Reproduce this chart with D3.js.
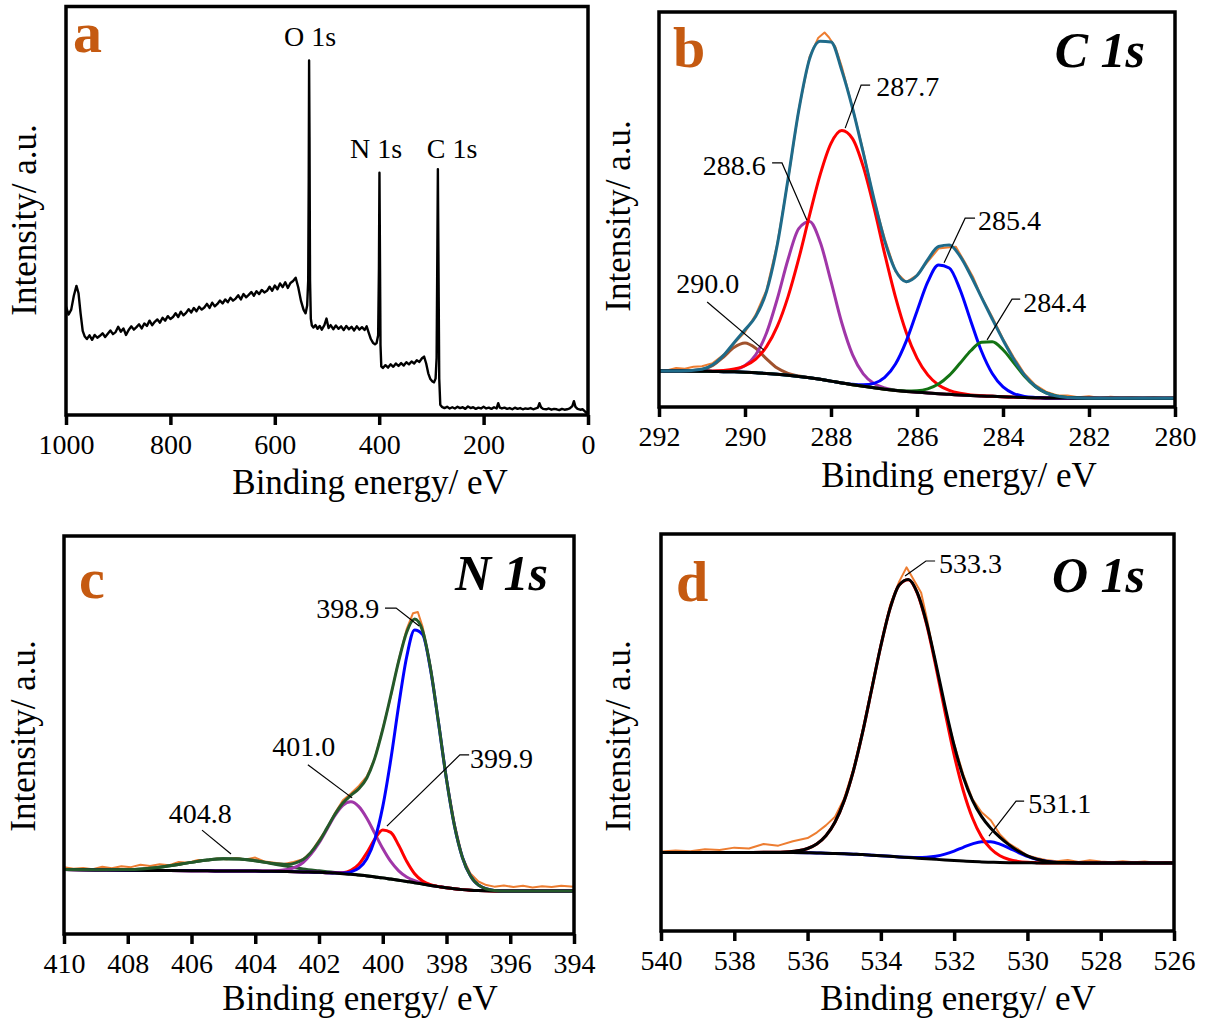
<!DOCTYPE html>
<html><head><meta charset="utf-8">
<script src="https://cdn.jsdelivr.net/npm/d3@7"></script>
<style>
html,body{margin:0;padding:0;background:#fff;}
svg{display:block;}
svg text{font-family:"Liberation Serif","Times New Roman",Times,serif;}
</style></head><body>
<svg id="chart" width="1213" height="1026"></svg>
<script>
// ---------------- DATA ----------------
// (a) survey spectrum: [binding energy eV, intensity a.u.]
const surveyPoints = [
[1000,26.5],[995,24.6],[990,25.8],[985,29.2],[980,31.6],[976,29.8],[972,24.8],[968,20.6],[964,19.2],[960,18.6],
[955,19.5],[950,18.4],[945,19.6],[940,18.9],[935,19.4],[930,20.0],[925,19.1],[920,19.9],[915,20.7],[910,19.8],
[905,20.3],[900,21.6],[895,20.4],[890,21.2],[885,19.6],[880,20.8],[875,21.7],[870,20.9],[865,21.5],[860,22.2],
[855,21.2],[850,22.4],[845,21.8],[840,23.1],[835,22.0],[830,22.8],[825,23.4],[820,22.6],[815,23.8],[810,23.1],
[805,24.2],[800,23.5],[795,24.0],[790,24.9],[785,24.0],[780,25.3],[775,24.4],[770,25.0],[765,25.9],[760,25.1],
[755,26.2],[750,25.4],[745,26.5],[740,25.8],[735,26.3],[730,27.2],[725,26.2],[720,27.5],[715,26.6],[710,27.2],
[705,28.0],[700,27.3],[695,28.3],[690,27.6],[685,28.7],[680,28.0],[675,28.5],[670,29.3],[665,28.3],[660,29.6],
[655,28.8],[650,29.4],[645,30.1],[640,29.2],[635,30.3],[630,29.6],[625,30.6],[620,30.0],[615,30.4],[610,31.4],
[605,30.4],[600,31.7],[595,30.8],[590,32.2],[585,31.3],[580,32.5],[575,31.1],[570,32.3],[565,32.8],[560,33.6],
[555,31.2],[550,28.0],[545,25.8],[541,24.9],[538,26.8],[536,33],[535,58],[534.3,86.8],[533.5,68],[532.5,33],
[531,23.6],[529,21.9],[526,21.4],[522,22.0],[518,21.1],[514,21.8],[510,20.9],[505,22.0],[501,23.6],[497,21.3],
[493,22.0],[488,21.0],[483,21.9],[478,21.1],[473,21.7],[468,20.8],[463,21.8],[458,21.0],[453,21.6],[448,20.7],
[443,21.7],[438,20.9],[433,21.5],[428,20.8],[424,21.7],[420,20.1],[416,18.6],[412,17.7],[408,17.3],[405,17.6],
[402,19.5],[400.5,36],[399.5,59.3],[398.5,38],[397.5,17],[396,11.9],[393,11.5],[388,12.2],[383,11.6],[378,12.4],
[373,11.8],[368,12.6],[363,12.0],[358,12.7],[353,12.1],[348,12.9],[343,12.4],[338,13.1],[333,12.6],[328,13.4],
[323,13.0],[318,13.9],[314,14.3],[310,12.6],[306,10.2],[302,8.8],[298,8.2],[295,8.0],[292,8.9],[290,14],
[288.5,42],[287.6,60.2],[286.5,38],[285,9],[283,2.5],[280,2.0],[275,1.7],[270,2.0],[265,1.6],[260,1.9],
[255,1.6],[250,2.0],[245,1.7],[240,1.9],[235,1.5],[230,2.1],[225,1.7],[220,1.9],[215,1.5],[210,1.8],
[205,1.6],[200,2.0],[195,1.6],[190,1.8],[185,1.5],[180,1.9],[175,1.6],[172,2.9],[169,1.8],[165,1.6],
[160,1.8],[155,1.5],[150,1.7],[145,1.4],[140,1.8],[135,1.5],[130,1.7],[125,1.4],[120,1.6],[115,1.5],
[110,1.7],[105,1.4],[100,1.6],[96,1.8],[93,2.9],[90,1.9],[86,1.5],[80,1.4],[75,1.6],[70,1.3],
[65,1.5],[60,1.4],[55,1.2],[50,1.5],[45,1.3],[40,1.4],[35,1.6],[30,2.2],[27,3.4],[24,2.0],
[20,1.5],[15,1.3],[10,1.4],[6,0.9],[3,0.5],[0,0.9]
];
const surveyTicks = [1000, 800, 600, 400, 200, 0];
const surveyLabels = [
  {text: "O 1s", at: [532.6, 90.3]},
  {text: "N 1s", at: [406, 62.9]},
  {text: "C 1s", at: [260.5, 62.9]}
];

// (b) C 1s
const c1sRawPoints = [
[292,9.2],[291.8,9.3],[291.6,9.9],[291.4,9.7],[291.2,10.2],[291,10.3],[290.75,11.1],[290.5,13.2],[290.25,16.1],[290,19.0],
[289.75,23.4],[289.5,29.6],[289.25,41.3],[289,57.4],[288.75,75.3],[288.5,88.6],[288.3,93.4],[288.15,94.8],[288.05,93.6],[287.9,91.2],
[287.75,86.2],[287.5,75.8],[287.25,64.8],[287,52.4],[286.75,42.6],[286.5,34.3],[286.25,31.6],[286,33.4],[285.75,36.8],[285.5,40.1],
[285.3,40.4],[285.1,40.6],[284.9,36.9],[284.7,33.0],[284.5,27.9],[284.25,22.8],[284,17.3],[283.75,12.6],[283.5,8.4],[283.25,5.6],
[283,3.9],[282.75,3.0],[282.5,2.9],[282.25,2.5],[282,2.7],[281.75,2.3],[281.5,2.6],[281.25,2.4],[281,2.5],[280.75,2.3],
[280.5,2.5],[280.25,2.3],[280,2.4]
];
const c1sEnergy = [292,291.5,291,290.75,290.5,290.25,290,289.75,289.5,289.25,289,288.75,288.5,288.25,288,287.75,287.5,287.25,287,286.75,286.5,286.25,286,285.75,285.5,285.25,285,284.75,284.5,284.25,284,283.75,283.5,283.25,283,282.5,282,281,280];
const c1sEnvelope = [9.1,9.11,9.54,10.68,13.06,16.34,19.54,22.94,29.22,40.99,57.65,75.05,88.06,92.6,92.4,85.22,75.66,64.36,52.66,41.99,34.58,31.72,33.28,37.29,40.63,41.0,38.18,33.29,27.75,22.27,16.98,12.11,8.08,5.26,3.57,2.4,2.2,2.2,2.2];
const c1sBackground = [9.1,9.1,9.05,9.0,8.95,8.9,8.8,8.65,8.5,8.3,8.05,7.75,7.4,7.0,6.55,6.1,5.65,5.25,4.85,4.5,4.2,3.95,3.75,3.55,3.35,3.2,3.05,2.9,2.8,2.7,2.6,2.5,2.4,2.35,2.3,2.25,2.2,2.2,2.2];
const c1sPeak2900 = [9.1,9.1,9.51,10.55,12.65,15.12,16.2,14.87,12.2,9.85,8.51,7.85,7.41,7.0,6.55,6.1,5.65,5.25,4.85,4.5,4.2,3.95,3.75,3.55,3.35,3.2,3.05,2.9,2.8,2.7,2.6,2.5,2.4,2.35,2.3,2.25,2.2,2.2,2.2];
const c1sPeak2886 = [9.1,9.1,9.05,9.03,9.08,9.42,10.5,13.24,18.74,27.34,37.35,45.15,46.95,41.7,31.8,21.32,13.26,8.4,5.93,4.81,4.27,3.96,3.75,3.55,3.35,3.2,3.05,2.9,2.8,2.7,2.6,2.5,2.4,2.35,2.3,2.25,2.2,2.2,2.2];
const c1sPeak2877 = [9.1,9.1,9.08,9.1,9.23,9.6,10.44,12.13,15.28,20.4,27.89,37.55,48.5,58.9,66.75,70.0,67.95,60.85,50.45,38.7,27.8,18.85,12.39,8.14,5.58,4.2,3.46,3.05,2.85,2.7,2.6,2.5,2.4,2.35,2.3,2.25,2.2,2.2,2.2];
const c1sPeak2854 = [9.1,9.1,9.05,9.0,8.95,8.9,8.8,8.65,8.5,8.3,8.05,7.75,7.4,7.0,6.55,6.1,5.75,5.61,5.98,7.48,10.88,16.69,24.25,31.65,35.95,35.2,29.75,21.8,14.1,8.47,5.08,3.41,2.68,2.42,2.3,2.25,2.2,2.2,2.2];
const c1sPeak2844 = [9.1,9.1,9.05,9.0,8.95,8.9,8.8,8.65,8.5,8.3,8.05,7.75,7.4,7.0,6.55,6.1,5.65,5.25,4.85,4.5,4.23,4.07,4.14,4.6,5.8,8.0,11.07,14.24,16.4,16.5,14.5,11.2,7.8,5.19,3.57,2.4,2.2,2.2,2.2];
const c1sTicks = [292, 290, 288, 286, 284, 282, 280];
const c1sLabels = [
  {text: "290.0", at: [291.6, 28.9], leader: [[290.88, 26.6], [289.56, 14.4]]},
  {text: "288.6", at: [290.98, 58.7], leader: [[289.37, 61.8], [289.14, 61.8], [288.56, 47.3]]},
  {text: "287.7", at: [286.95, 78.7], leader: [[287.09, 81.5], [287.30, 81.5], [287.67, 70.6]]},
  {text: "285.4", at: [284.58, 44.8], leader: [[284.65, 47.8], [284.88, 47.8], [285.37, 36.5]]},
  {text: "284.4", at: [283.53, 24.1], leader: [[283.6, 27.3], [283.79, 27.3], [284.37, 17.0]]}
];

// (c) N 1s
const n1sRawPoints = [
[410,16.8],[409.7,16.4],[409.4,16.6],[409.1,16.3],[408.8,16.9],[408.5,16.5],[408.2,17.0],[407.9,16.8],[407.6,17.4],[407.3,17.1],
[407,17.5],[406.7,17.3],[406.4,18.1],[406.1,17.9],[405.8,18.6],[405.5,18.5],[405.2,19.0],[404.9,18.8],[404.6,19.1],[404.3,18.7],
[404,19.2],[403.7,18.2],[403.4,17.9],[403.1,17.6],[402.8,18.1],[402.5,18.8],[402.25,20.6],[402,23.6],[401.75,26.5],[401.5,30.4],
[401.25,33.6],[401,35.3],[400.75,37.2],[400.5,39.6],[400.25,44.1],[400,51.6],[399.75,59.6],[399.5,68.9],[399.25,76.6],[399.05,80.6],
[398.9,80.9],[398.75,77.2],[398.5,67.3],[398.25,53.4],[398,39.2],[397.75,27.9],[397.5,19.3],[397.25,15.2],[397,13.2],[396.75,12.3],
[396.5,11.9],[396.2,12.2],[395.9,11.8],[395.6,12.1],[395.3,11.7],[395,12.0],[394.7,11.8],[394.4,12.1],[394,11.9]
];
const n1sEnergy = [410,409,408,407,406,405.5,405,404.5,404,403.5,403,402.5,402,401.75,401.5,401.25,401,400.75,400.5,400.25,400,399.75,399.5,399.25,399,398.75,398.5,398.25,398,397.75,397.5,397.25,397,396.5,396,395,394];
const n1sEnvelope = [16.2,16.13,16.19,16.79,18.0,18.58,18.92,18.86,18.42,17.77,17.48,18.71,23.24,26.6,30.07,32.91,34.84,36.47,39.19,44.19,51.41,59.86,68.56,75.82,79.14,76.21,66.66,53.06,38.85,27.21,19.24,14.61,12.31,10.95,10.8,10.8,10.8];
const n1sBackground = [16.2,16.1,16.0,15.95,15.9,15.87,15.85,15.83,15.8,15.75,15.7,15.6,15.5,15.4,15.3,15.15,15.0,14.8,14.6,14.35,14.1,13.8,13.5,13.2,12.9,12.55,12.2,11.9,11.6,11.35,11.15,11.0,10.9,10.8,10.8,10.8,10.8];
const n1sPeak4048 = [16.2,16.13,16.19,16.79,18.0,18.58,18.92,18.86,18.41,17.71,16.99,16.34,15.87,15.65,15.46,15.25,15.06,14.84,14.62,14.36,14.1,13.8,13.5,13.2,12.9,12.55,12.2,11.9,11.6,11.35,11.15,11.0,10.9,10.8,10.8,10.8,10.8];
const n1sPeak4010 = [16.2,16.1,16.0,15.95,15.9,15.87,15.85,15.83,15.81,15.81,16.19,17.97,22.87,26.34,29.8,32.35,33.2,32.0,29.1,25.29,21.47,18.22,15.87,14.34,13.39,12.74,12.26,11.92,11.6,11.35,11.15,11.0,10.9,10.8,10.8,10.8,10.8];
const n1sPeak3999 = [16.2,16.1,16.0,15.95,15.9,15.87,15.85,15.83,15.8,15.75,15.7,15.6,15.5,15.4,15.36,15.42,15.97,17.5,20.38,23.87,26.14,25.54,22.29,18.28,15.15,13.32,12.4,11.94,11.6,11.35,11.15,11.0,10.9,10.8,10.8,10.8,10.8];
const n1sPeak3989 = [16.2,16.1,16.0,15.95,15.9,15.87,15.85,15.83,15.8,15.75,15.7,15.6,15.5,15.4,15.35,15.34,15.61,16.53,18.89,23.72,32.0,43.7,57.4,69.6,76.4,75.25,66.4,53.0,38.85,27.21,19.24,14.61,12.31,10.95,10.8,10.8,10.8];
const n1sTicks = [410, 408, 406, 404, 402, 400, 398, 396, 394];
const n1sLabels = [
  {text: "398.9", at: [402.09, 79.4], leader: [[399.93, 81.9], [399.58, 81.9], [398.86, 77.4]]},
  {text: "401.0", at: [403.47, 44.7], leader: [[402.35, 42.5], [400.96, 34.2]]},
  {text: "399.9", at: [397.26, 41.7], leader: [[397.29, 45.0], [397.58, 45.0], [399.87, 27.1]]},
  {text: "404.8", at: [406.71, 27.9], leader: [[405.67, 26.1], [404.76, 20.1]]}
];

// (d) O 1s
const o1sRawPoints = [
[540,20.0],[539.6,20.3],[539.2,20.1],[538.8,20.6],[538.4,20.4],[538,21.0],[537.6,20.8],[537.2,21.9],[536.8,21.5],[536.4,22.6],
[536,23.4],[535.75,24.8],[535.5,26.6],[535.25,28.8],[535,33.4],[534.75,40.8],[534.5,50.3],[534.25,61.4],[534,72.2],[533.75,82.0],
[533.5,88.0],[533.3,91.6],[533.1,88.4],[532.9,85.2],[532.75,78.9],[532.5,67.2],[532.25,56.0],[532,47.1],[531.75,39.4],[531.5,33.2],
[531.25,29.9],[531,27.9],[530.75,24.3],[530.5,22.0],[530.25,20.6],[530,19.0],[529.75,18.4],[529.5,17.9],[529.2,17.6],[528.9,17.9],
[528.6,17.4],[528.3,17.8],[528,17.5],[527.7,17.3],[527.4,17.6],[527.1,17.3],[526.8,17.5],[526.5,17.2],[526.2,17.4],[526,17.3]
];
const o1sEnergy = [540,539,538,537.5,537,536.5,536,535.75,535.5,535.25,535,534.75,534.5,534.25,534,533.75,533.5,533.25,533,532.75,532.5,532.25,532,531.75,531.5,531.25,531,530.75,530.5,530.25,530,529.75,529.5,529,528.5,528,527,526];
const o1sEnvelope = [19.8,19.8,19.8,19.8,19.81,19.95,20.78,21.9,23.98,27.46,32.84,40.35,49.95,60.9,71.85,81.21,87.17,88.56,85.11,77.53,67.44,56.66,46.74,38.79,32.92,28.8,25.86,23.57,21.69,20.13,18.94,18.11,17.6,17.23,17.15,17.15,17.15,17.15];
const o1sBackground = [19.8,19.8,19.8,19.8,19.78,19.75,19.7,19.65,19.6,19.52,19.45,19.35,19.25,19.1,18.95,18.8,18.65,18.5,18.35,18.2,18.05,17.9,17.75,17.62,17.5,17.4,17.32,17.26,17.22,17.19,17.17,17.16,17.15,17.15,17.15,17.15,17.15,17.15];
const o1sPeak5333 = [19.8,19.8,19.8,19.8,19.81,19.95,20.78,21.9,23.98,27.46,32.84,40.35,49.95,60.9,71.85,81.2,87.15,88.5,84.95,77.15,66.65,55.2,44.35,35.32,28.46,23.71,20.71,18.95,18.01,17.53,17.31,17.21,17.15,17.15,17.15,17.15,17.15,17.15];
const o1sPeak5311 = [19.8,19.8,19.8,19.8,19.78,19.75,19.7,19.65,19.6,19.52,19.45,19.35,19.25,19.1,18.95,18.81,18.67,18.56,18.51,18.58,18.84,19.36,20.14,21.09,21.96,22.49,22.47,21.88,20.9,19.79,18.8,18.06,17.6,17.23,17.15,17.15,17.15,17.15];
const o1sTicks = [540, 538, 536, 534, 532, 530, 528, 526];
const o1sLabels = [
  {text: "533.3", at: [532.41, 90.2], leader: [[532.52, 93.2], [532.77, 93.2], [533.34, 89.4]]},
  {text: "531.1", at: [529.98, 29.7], leader: [[530.09, 32.7], [530.31, 32.7], [531.05, 23.9]]}
];

// ---------------- DRAWING ----------------
const FONT = '"Liberation Serif","Times New Roman",Times,serif';
const svg = d3.select('#chart');
const zip = (xs, ys) => xs.map((v, i) => [v, ys[i]]);

const COL = {raw: '#ED7D31', black: '#000000', red: '#FF0000', blue: '#0000FF',
  purple: '#A036A8', brown: '#A0522D', green: '#137313', teal: '#1F6B8A', dkgreen: '#24592A',
  letter: '#C55A11'};

const panels = [
  {id: 'a', box: {x0: 66, x1: 588, y0: 6.5, y1: 415}, domain: [1000, 0], ticks: surveyTicks,
   letter: {t: 'a', x: 73, y: 52}, title: null,
   xTitle: {x: 370, y: 494}, yTitle: {x: 36, y: 220},
   series: [{pts: surveyPoints, color: COL.black, w: 2.4, curve: d3.curveLinear}],
   labels: surveyLabels, labelAnchor: 'middle'},
  {id: 'b', box: {x0: 659, x1: 1175, y0: 12, y1: 407}, domain: [292, 280], ticks: c1sTicks,
   letter: {t: 'b', x: 673, y: 67}, title: {t: 'C 1s', x: 1145, y: 67},
   xTitle: {x: 959, y: 487}, yTitle: {x: 630, y: 216},
   series: [
     {pts: c1sRawPoints, color: COL.raw, w: 2, curve: d3.curveLinear},
     {pts: zip(c1sEnergy, c1sPeak2900), color: COL.brown, w: 3},
     {pts: zip(c1sEnergy, c1sPeak2886), color: COL.purple, w: 3},
     {pts: zip(c1sEnergy, c1sPeak2877), color: COL.red, w: 3},
     {pts: zip(c1sEnergy, c1sPeak2854), color: COL.blue, w: 3},
     {pts: zip(c1sEnergy, c1sPeak2844), color: COL.green, w: 3},
     {pts: zip(c1sEnergy, c1sBackground), color: COL.black, w: 3},
     {pts: zip(c1sEnergy, c1sEnvelope), color: COL.teal, w: 3}
   ], labels: c1sLabels, labelAnchor: 'start'},
  {id: 'c', box: {x0: 64, x1: 574, y0: 536, y1: 934}, domain: [410, 394], ticks: n1sTicks,
   letter: {t: 'c', x: 79, y: 598}, title: {t: 'N 1s', x: 548, y: 590},
   xTitle: {x: 360, y: 1010}, yTitle: {x: 35, y: 736},
   series: [
     {pts: n1sRawPoints, color: COL.raw, w: 2, curve: d3.curveLinear},
     {pts: zip(n1sEnergy, n1sPeak4048), color: COL.dkgreen, w: 3},
     {pts: zip(n1sEnergy, n1sPeak4010), color: COL.purple, w: 3},
     {pts: zip(n1sEnergy, n1sPeak3999), color: COL.red, w: 3},
     {pts: zip(n1sEnergy, n1sPeak3989), color: COL.blue, w: 3},
     {pts: zip(n1sEnergy, n1sBackground), color: COL.black, w: 3},
     {pts: zip(n1sEnergy, n1sEnvelope), color: COL.dkgreen, w: 3}
   ], labels: n1sLabels, labelAnchor: 'start'},
  {id: 'd', box: {x0: 661, x1: 1174, y0: 534, y1: 931}, domain: [540, 526], ticks: o1sTicks,
   letter: {t: 'd', x: 676, y: 601}, title: {t: 'O 1s', x: 1145, y: 592},
   xTitle: {x: 958, y: 1010}, yTitle: {x: 630, y: 736},
   series: [
     {pts: o1sRawPoints, color: COL.raw, w: 2, curve: d3.curveLinear},
     {pts: zip(o1sEnergy, o1sPeak5311), color: COL.blue, w: 3},
     {pts: zip(o1sEnergy, o1sPeak5333), color: COL.red, w: 3},
     {pts: zip(o1sEnergy, o1sBackground), color: COL.black, w: 3},
     {pts: zip(o1sEnergy, o1sEnvelope), color: COL.black, w: 3}
   ], labels: o1sLabels, labelAnchor: 'start'}
];

const defs = svg.append('defs');

panels.forEach(p => {
  const b = p.box;
  const x = d3.scaleLinear().domain(p.domain).range([b.x0, b.x1]);
  const y = d3.scaleLinear().domain([0, 100]).range([b.y1, b.y0]);
  const g = svg.append('g').attr('class', 'panel-' + p.id);

  defs.append('clipPath').attr('id', 'clip-' + p.id)
    .append('rect').attr('x', b.x0).attr('y', b.y0)
    .attr('width', b.x1 - b.x0).attr('height', b.y1 - b.y0);

  const plot = g.append('g').attr('clip-path', `url(#clip-${p.id})`);
  p.series.forEach(s => {
    const line = d3.line().x(d => x(d[0])).y(d => y(d[1])).curve(s.curve || d3.curveMonotoneX);
    plot.append('path').datum(s.pts).attr('d', line)
      .attr('fill', 'none').attr('stroke', s.color).attr('stroke-width', s.w)
      .attr('stroke-linejoin', 'round').attr('stroke-linecap', 'round');
  });

  // leaders and labels
  const leaderLine = d3.line().x(d => x(d[0])).y(d => y(d[1]));
  p.labels.forEach(l => {
    if (l.leader) {
      g.append('path').datum(l.leader).attr('d', leaderLine)
        .attr('fill', 'none').attr('stroke', '#000').attr('stroke-width', 1.2);
    }
    g.append('text').attr('x', x(l.at[0])).attr('y', y(l.at[1]))
      .attr('text-anchor', p.labelAnchor).attr('font-family', FONT)
      .attr('font-size', 28).attr('fill', '#000').text(l.text);
  });

  // frame
  g.append('rect').attr('x', b.x0).attr('y', b.y0)
    .attr('width', b.x1 - b.x0).attr('height', b.y1 - b.y0)
    .attr('fill', 'none').attr('stroke', '#000').attr('stroke-width', 3.5);

  // x axis
  const axis = d3.axisBottom(x).tickValues(p.ticks).tickSize(10).tickSizeOuter(0)
    .tickFormat(d3.format('d'));
  const ax = g.append('g').attr('transform', `translate(0,${b.y1})`).call(axis)
    .attr('font-family', FONT).attr('font-size', 28);
  ax.select('.domain').remove();
  ax.selectAll('.tick line').attr('stroke', '#000').attr('stroke-width', 3.5);
  ax.selectAll('.tick text').attr('y', 39).attr('dy', 0).attr('fill', '#000')
    .style('font-size', '28px');

  // axis titles
  g.append('text').attr('x', p.xTitle.x).attr('y', p.xTitle.y)
    .attr('text-anchor', 'middle').attr('font-family', FONT).attr('font-size', 35)
    .attr('fill', '#000').text('Binding energy/ eV');
  g.append('text').attr('transform', `translate(${p.yTitle.x},${p.yTitle.y}) rotate(-90)`)
    .attr('text-anchor', 'middle').attr('font-family', FONT).attr('font-size', 35)
    .attr('fill', '#000').text('Intensity/ a.u.');

  // panel letter
  g.append('text').attr('x', p.letter.x).attr('y', p.letter.y)
    .attr('font-family', FONT).attr('font-size', 58).attr('font-weight', 'bold')
    .attr('fill', COL.letter).text(p.letter.t);

  // panel title
  if (p.title) {
    g.append('text').attr('x', p.title.x).attr('y', p.title.y)
      .attr('text-anchor', 'end').attr('font-family', FONT).attr('font-size', 50)
      .attr('font-weight', 'bold').attr('font-style', 'italic')
      .attr('fill', '#000').text(p.title.t);
  }
});
</script>
</body></html>
